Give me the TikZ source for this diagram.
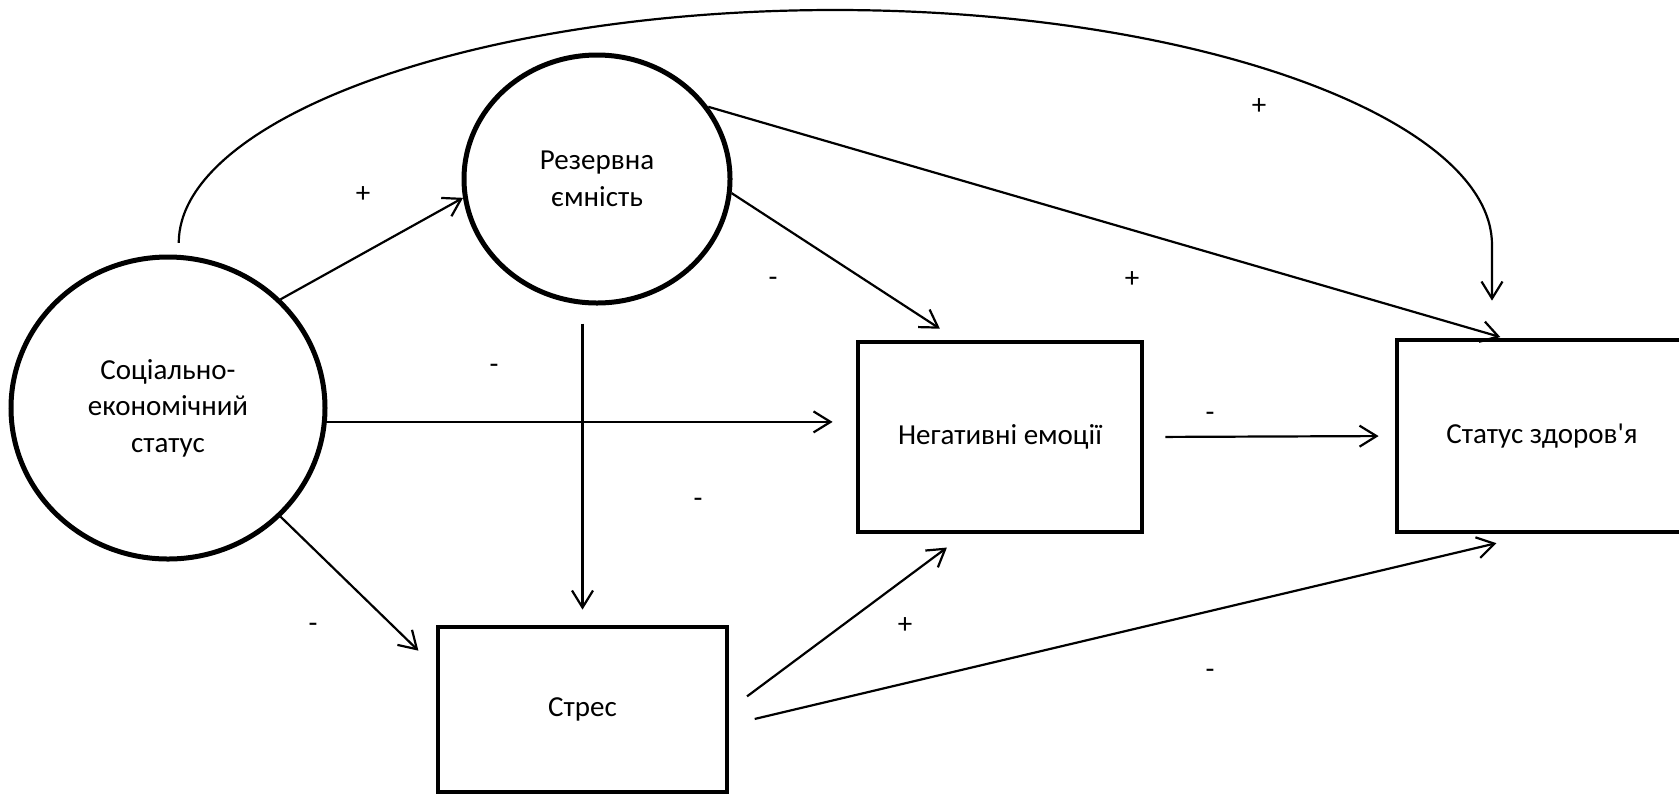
\documentclass[tikz,border=0pt]{standalone}
\usepackage{fontspec}
\setmainfont{Carlito}
\usetikzlibrary{shapes.geometric,arrows.meta,calc}

\begin{document}
\begin{tikzpicture}[x=0.5pt,y=-0.5pt,
		roundnode/.style={ellipse, draw=black, line width=2.5pt, inner sep=0pt, align=center, font=\fontsize{14.5}{18.3}\selectfont},
		squanode/.style={rectangle, draw=black, line width=2.4pt, inner sep=0pt, align=center, font=\fontsize{14.5}{18.3}\selectfont},
		signnode/.style={inner sep=0pt, font=\fontsize{14.5}{16}\selectfont},
		linkpath/.style={draw=black, line width=1.1pt, -{Straight Barb[length=8.5pt,width=10.5pt]}}
		]
		\useasboundingbox (0,0) rectangle (1679,794);

		% Nodes
		\node[roundnode, minimum width=157pt, minimum height=151pt] (ses) at (168,408) {Соціально-\\економічний\\статус};
		\node[roundnode, minimum width=133pt, minimum height=124pt] (res) at (597,179) {Резервна\\ємність};
		\node[squanode, minimum width=142pt, minimum height=95pt] (neg) at (1000,437) {Негативні емоції};
		\node[squanode, minimum width=145pt, minimum height=96pt] (health) at (1542,436) {Статус здоров\textquotesingle я};
		\node[squanode, minimum width=144.5pt, minimum height=82.5pt] (stress) at (582.5,709.5) {Стрес};

		% Signs
		\node[signnode] (signSesRes) at (363,195) {+};
		\node[signnode] (signArc) at (1259,107) {+};
		\node[signnode] (signResHealth) at (1132,280) {+};
		\node[signnode] (signResNeg) at (773,282) {-};
		\node[signnode] (signSesNeg) at (494,369) {-};
		\node[signnode] (signResStress) at (698,503) {-};
		\node[signnode] (signSesStress) at (313,628) {-};
		\node[signnode] (signStressNeg) at (905,626) {+};
		\node[signnode] (signStressHealth) at (1210,674) {-};
		\node[signnode] (signNegHealth) at (1210,417) {-};

		% Paths from SES
		\draw[linkpath] (ses.44) -- (res.188);
		\draw[linkpath, shorten >=11.5pt] (ses.-5) -- (ses.-5 -| neg.west);
		\draw[linkpath, shorten >=12pt] (ses.-44) -- (stress.164);
		\draw[linkpath, shorten <=6pt, shorten >=18.5pt] (ses.86) .. controls (179,119) and (473,10) .. (835,10)
			.. controls (1197,10) and (1492,119) .. (1492,245) -- (1492,0 |- health.north);

		% Paths from reserve
		\draw[linkpath, shorten <=9pt, shorten >=7.5pt] (res.south -| stress.north) -- (stress.north);
		\draw[linkpath, shorten >=10pt] (res.-6) -- (neg.114);
		\draw[linkpath, shorten >=1pt] (res.33) -- (health.112);

		% Paths to health
		\draw[linkpath, shorten <=10.5pt, shorten >=8pt] (neg.east) -- (health.west);
		\draw[linkpath, shorten <=11pt, shorten >=11pt] (stress.east) -- (neg.250);
		\draw[linkpath, shorten <=13pt, shorten >=19pt] (stress.-6) -- (health.265);
	\end{tikzpicture}
\end{document}
